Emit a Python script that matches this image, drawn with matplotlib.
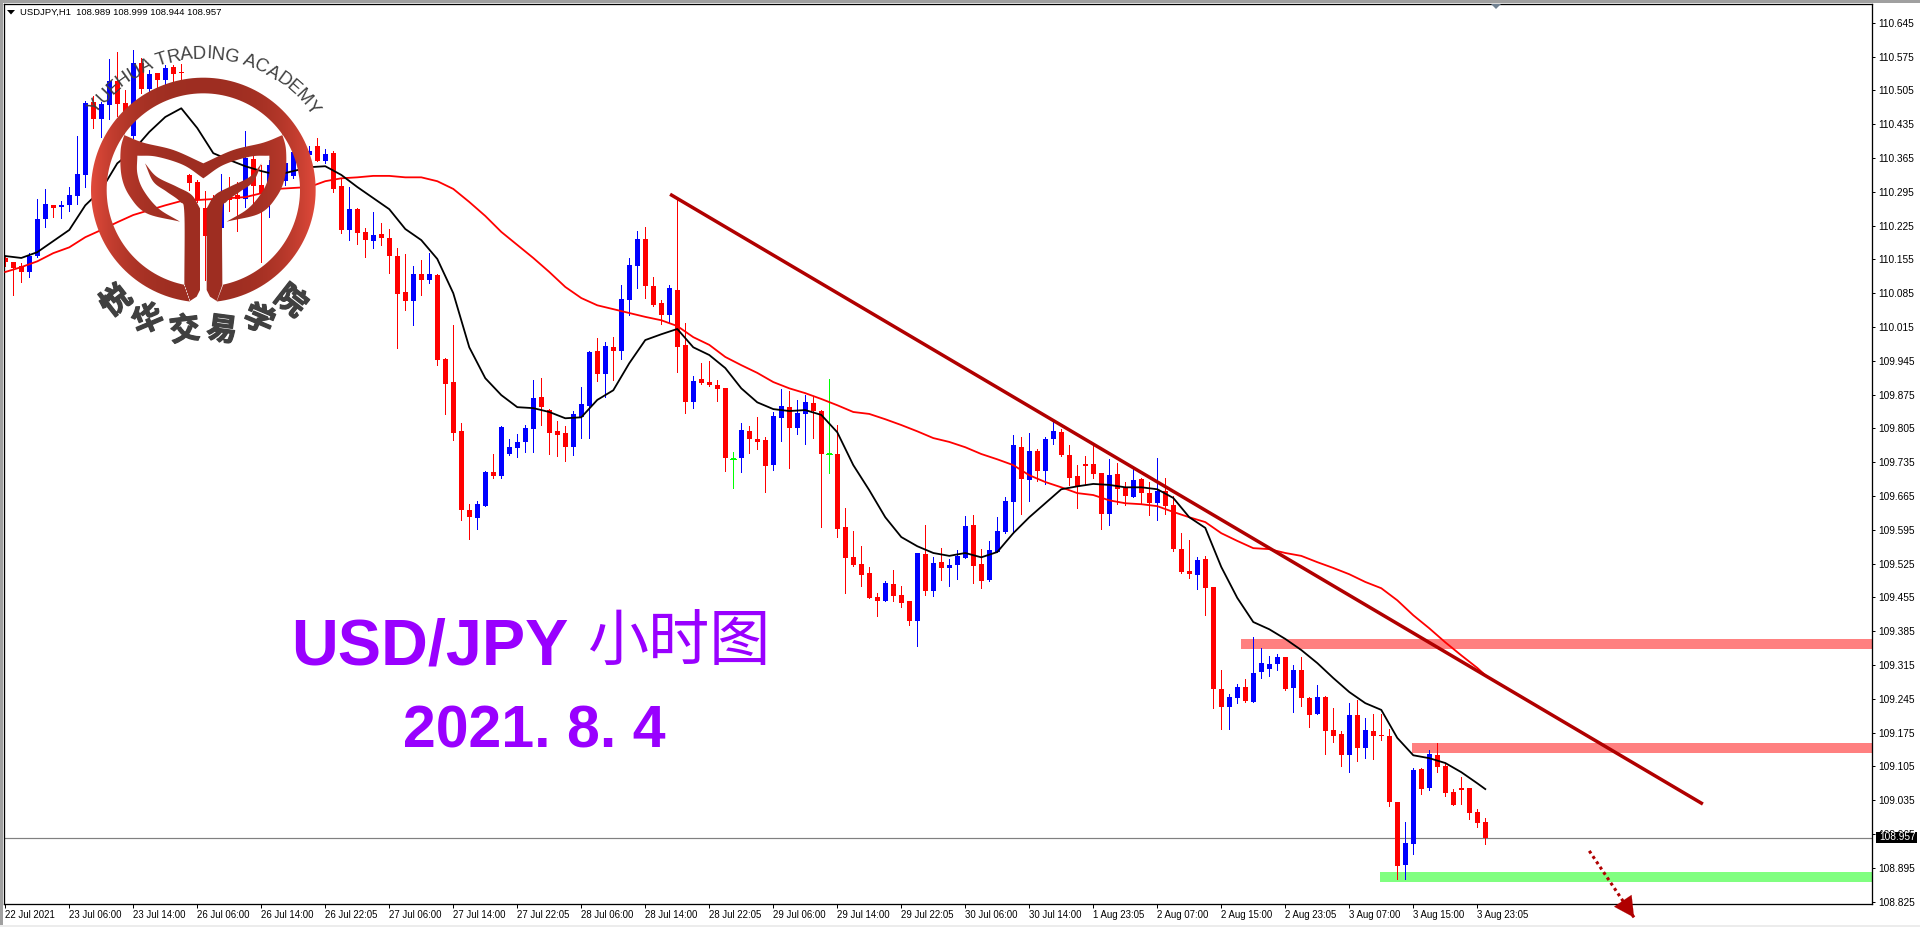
"""USD/JPY H1 chart, MT4 look, with the academy logo on top."""
import numpy as np
import matplotlib

matplotlib.use("Agg")
from matplotlib import pyplot as plt
from matplotlib import patheffects as pe
from matplotlib.patches import Polygon, Rectangle
from matplotlib.path import Path
from matplotlib.textpath import TextPath
from matplotlib.font_manager import FontProperties

opens = [
    110.158, 110.149, 110.141, 110.129, 110.162, 110.238, 110.267, 110.263, 110.267, 110.286,
    110.330, 110.481, 110.446, 110.475, 110.524, 110.479, 110.410, 110.562, 110.508, 110.541,
    110.526, 110.553, 110.543, 110.330, 110.315, 110.261, 110.278, 110.220, 110.288, 110.288,
    110.280, 110.363, 110.309, 110.299, 110.340, 110.317, 110.328, 110.361, 110.371, 110.390,
    110.359, 110.375, 110.307, 110.216, 110.259, 110.212, 110.193, 110.207, 110.199, 110.162,
    110.087, 110.069, 110.125, 110.112, 110.122, 109.949, 109.901, 109.799, 109.636, 109.619,
    109.644, 109.714, 109.706, 109.752, 109.764, 109.777, 109.804, 109.870, 109.843, 109.799,
    109.795, 109.766, 109.828, 109.851, 109.965, 109.917, 109.973, 109.965, 110.071, 110.141,
    110.197, 110.100, 110.064, 110.040, 110.091, 109.978, 109.859, 109.907, 109.901, 109.895,
    109.888, 109.742, 109.743, 109.799, 109.783, 109.781, 109.729, 109.826, 109.849, 109.806,
    109.835, 109.857, 109.841, 109.753, 109.752, 109.601, 109.538, 109.524, 109.505, 109.456,
    109.447, 109.483, 109.460, 109.447, 109.406, 109.545, 109.468, 109.528, 109.516, 109.522,
    109.536, 109.605, 109.524, 109.491, 109.549, 109.590, 109.652, 109.766, 109.698, 109.758,
    109.717, 109.783, 109.797, 109.750, 109.706, 109.731, 109.731, 109.712, 109.628, 109.710,
    109.681, 109.663, 109.700, 109.671, 109.650, 109.675, 109.646, 109.555, 109.509, 109.501,
    109.534, 109.476, 109.265, 109.228, 109.246, 109.269, 109.238, 109.300, 109.306, 109.317,
    109.331, 109.267, 109.304, 109.246, 109.213, 109.249, 109.180, 109.172, 109.128, 109.211,
    109.143, 109.178, 109.170, 109.168, 109.031, 108.901, 108.944, 109.099, 109.060, 109.128,
    109.106, 109.052, 109.060, 109.060, 109.010, 108.989]
highs = [
    110.162, 110.149, 110.147, 110.168, 110.280, 110.301, 110.267, 110.276, 110.305, 110.410,
    110.483, 110.493, 110.481, 110.570, 110.584, 110.506, 110.588, 110.572, 110.547, 110.541,
    110.557, 110.557, 110.559, 110.332, 110.319, 110.296, 110.288, 110.332, 110.325, 110.315,
    110.421, 110.369, 110.350, 110.361, 110.350, 110.361, 110.381, 110.392, 110.390, 110.406,
    110.383, 110.379, 110.323, 110.305, 110.261, 110.220, 110.253, 110.230, 110.218, 110.178,
    110.166, 110.141, 110.154, 110.168, 110.125, 109.951, 110.019, 109.816, 109.648, 109.654,
    109.717, 109.752, 109.810, 109.783, 109.793, 109.812, 109.905, 109.909, 109.845, 109.820,
    109.810, 109.841, 109.891, 109.965, 109.992, 109.984, 109.994, 110.102, 110.158, 110.214,
    110.222, 110.118, 110.071, 110.102, 110.280, 110.023, 109.913, 109.940, 109.944, 109.905,
    109.888, 109.756, 109.816, 109.810, 109.828, 109.787, 109.839, 109.886, 109.882, 109.864,
    109.874, 109.872, 109.843, 109.907, 109.812, 109.640, 109.592, 109.561, 109.518, 109.464,
    109.489, 109.512, 109.478, 109.447, 109.547, 109.605, 109.538, 109.557, 109.534, 109.553,
    109.623, 109.625, 109.555, 109.572, 109.621, 109.663, 109.791, 109.787, 109.795, 109.762,
    109.787, 109.820, 109.804, 109.770, 109.729, 109.748, 109.770, 109.712, 109.741, 109.733,
    109.694, 109.721, 109.702, 109.694, 109.743, 109.702, 109.665, 109.588, 109.574, 109.538,
    109.541, 109.476, 109.304, 109.255, 109.275, 109.286, 109.373, 109.350, 109.333, 109.338,
    109.331, 109.315, 109.331, 109.249, 109.273, 109.251, 109.226, 109.178, 109.236, 109.242,
    109.205, 109.213, 109.213, 109.182, 109.031, 108.990, 109.101, 109.101, 109.139, 109.153,
    109.112, 109.058, 109.083, 109.060, 109.017, 108.999]
lows = [
    110.141, 110.081, 110.108, 110.118, 110.160, 110.222, 110.243, 110.241, 110.255, 110.270,
    110.305, 110.427, 110.408, 110.446, 110.452, 110.433, 110.406, 110.499, 110.501, 110.510,
    110.516, 110.522, 110.526, 110.299, 110.274, 110.112, 110.226, 110.220, 110.255, 110.214,
    110.263, 110.263, 110.149, 110.243, 110.309, 110.309, 110.323, 110.350, 110.369, 110.359,
    110.354, 110.294, 110.209, 110.195, 110.187, 110.160, 110.178, 110.185, 110.127, 109.971,
    110.050, 110.019, 110.081, 110.106, 109.936, 109.835, 109.781, 109.615, 109.576, 109.596,
    109.644, 109.702, 109.702, 109.750, 109.746, 109.756, 109.756, 109.812, 109.752, 109.748,
    109.737, 109.750, 109.785, 109.785, 109.903, 109.870, 109.905, 109.949, 110.040, 110.096,
    110.075, 110.058, 110.021, 110.025, 109.922, 109.837, 109.847, 109.897, 109.893, 109.862,
    109.717, 109.681, 109.714, 109.754, 109.762, 109.673, 109.719, 109.779, 109.723, 109.793,
    109.772, 109.785, 109.601, 109.712, 109.580, 109.464, 109.520, 109.478, 109.454, 109.416,
    109.447, 109.447, 109.435, 109.398, 109.354, 109.460, 109.458, 109.491, 109.478, 109.493,
    109.536, 109.485, 109.474, 109.489, 109.549, 109.588, 109.588, 109.628, 109.654, 109.696,
    109.690, 109.772, 109.748, 109.688, 109.640, 109.688, 109.702, 109.596, 109.605, 109.648,
    109.646, 109.663, 109.648, 109.625, 109.615, 109.628, 109.551, 109.505, 109.495, 109.472,
    109.418, 109.226, 109.182, 109.182, 109.236, 109.238, 109.238, 109.288, 109.292, 109.304,
    109.263, 109.217, 109.230, 109.186, 109.213, 109.130, 109.155, 109.106, 109.093, 109.116,
    109.122, 109.120, 109.159, 109.023, 108.872, 108.872, 108.923, 109.048, 109.056, 109.093,
    109.043, 109.025, 109.027, 108.996, 108.979, 108.944]
closes = [
    110.149, 110.137, 110.129, 110.162, 110.238, 110.270, 110.261, 110.267, 110.288, 110.332,
    110.479, 110.446, 110.477, 110.524, 110.477, 110.454, 110.562, 110.508, 110.539, 110.526,
    110.551, 110.539, 110.541, 110.313, 110.278, 110.203, 110.247, 110.278, 110.278, 110.280,
    110.365, 110.307, 110.292, 110.350, 110.319, 110.354, 110.377, 110.385, 110.379, 110.359,
    110.373, 110.301, 110.216, 110.259, 110.209, 110.195, 110.205, 110.199, 110.162, 110.083,
    110.069, 110.125, 110.112, 110.125, 109.946, 109.897, 109.795, 109.636, 109.621, 109.648,
    109.714, 109.706, 109.808, 109.766, 109.777, 109.806, 109.868, 109.849, 109.795, 109.791,
    109.766, 109.835, 109.855, 109.963, 109.917, 109.975, 109.965, 110.073, 110.143, 110.197,
    110.100, 110.060, 110.040, 110.096, 109.973, 109.859, 109.903, 109.899, 109.895, 109.886,
    109.743, 109.742, 109.801, 109.783, 109.777, 109.727, 109.830, 109.851, 109.806, 109.837,
    109.859, 109.841, 109.752, 109.753, 109.596, 109.536, 109.522, 109.501, 109.454, 109.447,
    109.485, 109.458, 109.443, 109.406, 109.547, 109.468, 109.526, 109.516, 109.522, 109.541,
    109.603, 109.520, 109.489, 109.553, 109.592, 109.654, 109.770, 109.700, 109.758, 109.717,
    109.783, 109.799, 109.750, 109.702, 109.685, 109.727, 109.710, 109.628, 109.708, 109.679,
    109.665, 109.698, 109.671, 109.650, 109.675, 109.644, 109.555, 109.507, 109.503, 109.532,
    109.474, 109.265, 109.228, 109.249, 109.269, 109.240, 109.298, 109.319, 109.317, 109.331,
    109.265, 109.304, 109.246, 109.211, 109.249, 109.178, 109.168, 109.128, 109.211, 109.143,
    109.180, 109.168, 109.168, 109.031, 108.899, 108.946, 109.097, 109.058, 109.130, 109.104,
    109.050, 109.025, 109.056, 109.008, 108.988, 108.957]

# moving averages, read every second bar plus the last one
ma_bars = list(range(0, 186, 2)) + [185]
ma_fast = [
    110.162, 110.158, 110.170, 110.193, 110.216, 110.267, 110.299, 110.354, 110.381, 110.419,
    110.450, 110.468, 110.427, 110.375, 110.361, 110.348, 110.338, 110.330, 110.338, 110.346,
    110.348, 110.330, 110.305, 110.282, 110.259, 110.218, 110.195, 110.156, 110.085, 109.973,
    109.909, 109.874, 109.849, 109.847, 109.839, 109.826, 109.828, 109.864, 109.884, 109.940,
    109.988, 110.000, 110.011, 109.973, 109.957, 109.930, 109.888, 109.859, 109.845, 109.841,
    109.843, 109.833, 109.797, 109.729, 109.677, 109.621, 109.580, 109.561, 109.547, 109.541,
    109.547, 109.538, 109.549, 109.588, 109.621, 109.650, 109.679, 109.685, 109.690, 109.688,
    109.683, 109.683, 109.679, 109.661, 109.621, 109.599, 109.518, 109.454, 109.404, 109.389,
    109.369, 109.346, 109.319, 109.288, 109.259, 109.236, 109.222, 109.164, 109.128, 109.122,
    109.112, 109.093, 109.070, 109.058]
ma_slow = [
    110.129, 110.139, 110.151, 110.168, 110.180, 110.201, 110.216, 110.232, 110.247, 110.257,
    110.267, 110.276, 110.278, 110.280, 110.282, 110.284, 110.292, 110.301, 110.303, 110.305,
    110.317, 110.323, 110.325, 110.328, 110.328, 110.325, 110.325, 110.317, 110.301, 110.274,
    110.245, 110.212, 110.185, 110.158, 110.129, 110.098, 110.075, 110.060, 110.052, 110.044,
    110.036, 110.029, 110.017, 109.994, 109.978, 109.953, 109.936, 109.920, 109.901, 109.888,
    109.878, 109.866, 109.853, 109.839, 109.835, 109.824, 109.812, 109.799, 109.785, 109.777,
    109.766, 109.752, 109.741, 109.729, 109.708, 109.694, 109.683, 109.671, 109.667, 109.656,
    109.650, 109.648, 109.644, 109.632, 109.621, 109.611, 109.588, 109.572, 109.557, 109.555,
    109.547, 109.541, 109.528, 109.516, 109.503, 109.487, 109.474, 109.449, 109.418, 109.391,
    109.362, 109.335, 109.309, 109.294]

time_ticks = list(range(0, 192, 8))
time_labels = [
    "22 Jul 2021", "23 Jul 06:00", "23 Jul 14:00", "26 Jul 06:00", "26 Jul 14:00", "26 Jul 22:05",
    "27 Jul 06:00", "27 Jul 14:00", "27 Jul 22:05", "28 Jul 06:00", "28 Jul 14:00", "28 Jul 22:05",
    "29 Jul 06:00", "29 Jul 14:00", "29 Jul 22:05", "30 Jul 06:00", "30 Jul 14:00", "1 Aug 23:05",
    "2 Aug 07:00", "2 Aug 15:00", "2 Aug 23:05", "3 Aug 07:00", "3 Aug 15:00", "3 Aug 23:05"]
price_ticks = [110.645 - 0.07 * i for i in range(27)]

last_price = 108.957
trend_bars, trend_prices = [83.1, 212.2], [110.290, 109.027]
arrow_bars, arrow_prices = [198.0, 203.6], [108.930, 108.792]
zones = [(154.5, 109.348, 109.369, "#ff8080"),
         (175.8, 109.133, 109.153, "#ff8080"),
         (171.8, 108.865, 108.886, "#80ff80")]

W, H = 1920, 927
L, R, T, B = 4, 1872, 4, 904
PX = 0.72  # one pixel in points at dpi 100
BLUE, RED, GREEN, DARK = "#0000ff", "#ff0000", "#00ff00", "#b00000"
PURPLE, LOGO_INK = "#9900ff", "#404040"

fig = plt.figure(figsize=(W / 100, H / 100), dpi=100, facecolor="white")
ax = fig.add_axes([L / W, 1 - B / H, (R - L) / W, (B - T) / H])
ax.set_xlim(-0.16, 233.34)
ax.set_ylim(108.820, 110.684)

x = np.arange(len(opens))
o, h, l, c = map(np.array, (opens, highs, lows, closes))
colors = np.where(c > o, BLUE, np.where(c < o, RED, GREEN))

for x0, p0, p1, col in zones:
    ax.add_patch(Rectangle((x0, p0), 240, p1 - p0, color=col, lw=0, zorder=1))
ax.axhline(last_price, color="#808080", lw=PX * 1.2, zorder=1.5)

ax.vlines(x, l, h, colors=colors, lw=PX, antialiased=False, zorder=2)
ax.bar(x, np.maximum(np.abs(c - o), 0.002), bottom=np.minimum(o, c), width=0.625,
       color=colors, antialiased=False, lw=0, zorder=2.1)
flat = c == o
ax.hlines(c[flat], x[flat] - 0.4, x[flat] + 0.4, colors=GREEN, lw=PX, antialiased=False, zorder=2.2)

ax.plot(ma_bars, ma_slow, color=RED, lw=1.3, zorder=3)
ax.plot(ma_bars, ma_fast, color="black", lw=1.3, zorder=3.1)
ax.plot(trend_bars, trend_prices, color=DARK, lw=2.5, solid_capstyle="butt", zorder=4)

ax.yaxis.tick_right()
ax.set_yticks(price_ticks)
ax.set_yticklabels([f"{p:.3f}" for p in price_ticks], family="Liberation Sans", fontsize=7.3)
ax.set_xticks(time_ticks)
ax.set_xticklabels(time_labels, family="Liberation Sans", fontsize=6.9, ha="left")
ax.tick_params(axis="y", length=2.4, width=PX, pad=2.0)
ax.tick_params(axis="x", length=3, width=PX, pad=1.5)
for s in ax.spines.values():
    s.set_linewidth(PX * 1.3)

# dotted arrow runs off the chart, so it is not clipped
ax.plot(arrow_bars, arrow_prices, color=DARK, lw=2.2, ls=(0, (1, 1.1)), clip_on=False, zorder=5)
ax.annotate("", xy=(arrow_bars[1], arrow_prices[1]),
            xytext=(arrow_bars[0] * 0.2 + arrow_bars[1] * 0.8, arrow_prices[0] * 0.2 + arrow_prices[1] * 0.8),
            annotation_clip=False, zorder=5,
            arrowprops=dict(arrowstyle="-|>,head_length=0.8,head_width=0.42", color=DARK,
                            lw=0.1, shrinkA=0, shrinkB=0, mutation_scale=18))

# everything below is placed in image pixels
over = fig.add_axes([0, 0, 1, 1], zorder=10)
over.set_xlim(0, W)
over.set_ylim(H, 0)
over.axis("off")

over.add_patch(Rectangle((0, 0), W, 2.5, color="#a0a0a0", lw=0))
over.add_patch(Rectangle((0, 0), 2.5, H, color="#a0a0a0", lw=0))
over.add_patch(Rectangle((0, 925), W, 2, color="#ececec", lw=0))
over.add_patch(Polygon([(1491, 4), (1501, 4), (1496, 9)], color="#708090", lw=0))

over.add_patch(Polygon([(7, 10), (15, 10), (11, 14.5)], color="black", lw=0))
over.text(20, 12.5, "USDJPY,H1  108.989 108.999 108.944 108.957", family="Liberation Sans",
          fontsize=6.8, va="center", ha="left", color="black")

over.add_patch(Rectangle((1876, 832), 41, 10.5, color="black", lw=0))
over.text(1879, 837.5, f"{last_price:.3f}", family="Liberation Sans", fontsize=7.3,
          color="white", va="center", ha="left")

# headline
over.text(291, 664, "USD/JPY", family="Liberation Sans", weight="bold", fontsize=46.6,
          color=PURPLE, va="baseline", ha="left")
over.text(587, 644, "小时图", family="Noto Sans CJK SC", fontsize=44,
          color=PURPLE, va="center", ha="left")
over.text(403, 747, "2021. 8. 4", family="Liberation Sans", weight="bold", fontsize=42.5,
          color=PURPLE, va="baseline", ha="left")


# logo, outlines traced in 3x zoom pixels
def smooth(pts, n=10):
    pts = np.array(pts, float)
    p = np.vstack([2 * pts[0] - pts[1], pts, 2 * pts[-1] - pts[-2]])
    out = []
    for i in range(1, len(p) - 2):
        for t in np.linspace(0, 1, n, endpoint=False):
            out.append(0.5 * (2 * p[i] + (p[i + 1] - p[i - 1]) * t
                              + (2 * p[i - 1] - 5 * p[i] + 4 * p[i + 1] - p[i + 2]) * t ** 2
                              + (3 * p[i] - p[i - 1] - 3 * p[i + 1] + p[i + 2]) * t ** 3))
    out.append(pts[-1])
    return np.array(out)


def mirror(pts):
    return [(1220 - px, py) for px, py in pts]


cx, cy, ro, ri = 610, 570, 337, 290
a0 = np.arctan2(903 - cy, 650 - cx)
a1 = np.arctan2(903 - cy, 570 - cx) - 2 * np.pi
b0 = np.arctan2(855 - cy, 670 - cx)
b1 = np.arctan2(855 - cy, 553 - cx) - 2 * np.pi
ao = np.linspace(a0, a1, 160)
ai = np.linspace(b1, b0, 160)
ring = np.vstack([np.c_[cx + ro * np.cos(ao), cy + ro * np.sin(ao)],
                  np.c_[cx + ri * np.cos(ai), cy + ri * np.sin(ai)]])

wing_top_l = [(372, 405), (430, 428), (520, 450), (610, 490)]
wing_out_r = [(845, 397), (858, 450), (855, 530), (830, 590), (780, 640), (680, 665)]
wing_in_r = [(680, 665), (745, 625), (790, 570), (808, 520), (808, 467)]
wing_low_r = [(808, 467), (750, 470), (670, 495), (610, 535)]
wings = np.vstack([
    smooth(wing_top_l), smooth(list(reversed(mirror(wing_top_l)))),
    smooth(wing_out_r), smooth(wing_in_r), smooth(wing_low_r),
    smooth(list(reversed(mirror(wing_low_r)))), smooth(list(reversed(mirror(wing_in_r)))),
    smooth(list(reversed(mirror(wing_out_r))))])

leaf_top = [(435, 490), (470, 530), (530, 560), (575, 585), (600, 625)]
leaf_stem = [(600, 625), (600, 870), (590, 890), (570, 903)]
leaf_back = [(553, 855), (553, 640), (540, 605), (500, 575), (460, 545), (435, 490)]
leaf_l = np.vstack([smooth(leaf_top), np.array(leaf_stem), smooth(leaf_back)])
leaf_r = np.c_[1220 - leaf_l[:, 0], leaf_l[:, 1]]

parts = [ring, wings, leaf_l, leaf_r]
verts, codes = [], []
for part in parts:
    part = part / 3
    verts.extend(part.tolist() + [part[0].tolist()])
    codes.extend([Path.MOVETO] + [Path.LINETO] * (len(part) - 1) + [Path.CLOSEPOLY])
logo_path = Path(verts, codes)

# horizontal shading: brick at the middle, lighter at both sides
xs = np.linspace(-1, 1, 256)
shade = np.abs(xs) ** 3
dark, light = np.array([0.62, 0.18, 0.13]), np.array([0.88, 0.29, 0.23])
grad = (dark + (light - dark) * shade[:, None])[None, :, :]
im = over.imshow(grad, extent=(cx / 3 - ro / 3, cx / 3 + ro / 3, (cy + ro) / 3, (cy - ro) / 3),
                 aspect="auto", interpolation="bilinear")
im.set_clip_path(logo_path, transform=over.transData)
over.set_xlim(0, W)
over.set_ylim(H, 0)

# lettering round the ring
lcx, lcy = cx / 3, cy / 3
top_text = "YUEHUA TRADING ACADEMY"
fp = FontProperties(family="Liberation Sans")
size_px = 18.5
adv = []
for i in range(len(top_text)):
    adv.append(TextPath((0, 0), top_text[i] + "|", size=size_px, prop=fp).get_extents().x1
               - TextPath((0, 0), "|", size=size_px, prop=fp).get_extents().x1)
pos = np.cumsum([0] + adv[:-1]) + np.array(adv) / 2
start, end = -52.0, 53.0
total = pos[-1] - pos[0]
for ch, s_pos in zip(top_text, pos):
    ang = start + (end - start) * (s_pos - pos[0]) / total
    rad = np.radians(ang)
    over.text(lcx + 136 * np.sin(rad), lcy - 136 * np.cos(rad), ch, family="Liberation Sans",
              fontsize=size_px * 0.72, color=LOGO_INK, rotation=-ang, rotation_mode="anchor",
              ha="center", va="center")

for ch, ang in zip("悦华交易学院", [-38, -23, -7.5, 7.5, 23, 38]):
    rad = np.radians(ang)
    t = over.text(lcx + 141.5 * np.sin(rad), lcy + 141.5 * np.cos(rad), ch, family="Noto Sans CJK SC",
                  weight="bold", fontsize=22, color=LOGO_INK, rotation=-ang, rotation_mode="anchor",
                  ha="center", va="center")
    t.set_path_effects([pe.withStroke(linewidth=0.9, foreground=LOGO_INK)])

fig.savefig("out.png", dpi=100, facecolor="white")
